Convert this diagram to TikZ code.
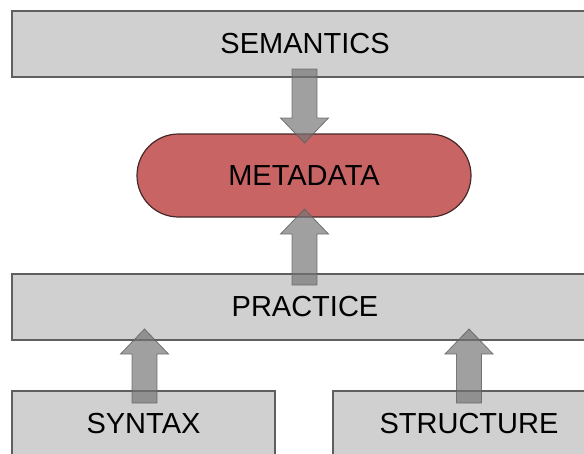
\documentclass[tikz,border=0pt]{standalone}
\usepackage{fontspec}
\setmainfont{Liberation Sans}
\usetikzlibrary{calc}

\definecolor{boxfill}{RGB}{208,208,208}
\definecolor{boxline}{RGB}{95,95,95}
\definecolor{metafill}{RGB}{200,100,100}
\definecolor{metaline}{RGB}{70,40,40}
\definecolor{arrowfill}{RGB}{115,115,115}
\definecolor{arrowline}{RGB}{95,95,95}

\tikzset{
  layer/.style={draw=boxline, fill=boxfill, line width=1.2pt, rectangle,
    inner sep=0pt, font=\fontsize{29}{35}\selectfont},
  core/.style={draw=metaline, fill=metafill, line width=1.2pt, rectangle,
    rounded corners=41.5pt, inner sep=0pt, font=\fontsize{29}{35}\selectfont},
  fatarrow/.style={fill=arrowfill, draw=arrowline, line width=0.8pt,
    fill opacity=0.68, draw opacity=0.8, line join=miter},
}

% broad block arrow from #1 to #2: shaft 25pt wide, head 48pt wide and 25pt long
\newcommand\fatarrow[2]{%
  \coordinate (hb) at ($(#2)!25pt!(#1)$);
  \draw[fatarrow]
    ($(#1)!12.5pt!90:(#2)$) -- ($(hb)!12.5pt!90:(#2)$) -- ($(hb)!24pt!90:(#2)$)
    -- (#2)
    -- ($(hb)!24pt!-90:(#2)$) -- ($(hb)!12.5pt!-90:(#2)$) -- ($(#1)!12.5pt!-90:(#2)$)
    -- cycle;
}

\begin{document}
\begin{tikzpicture}[x=1pt, y=-1pt]
  \useasboundingbox (0,0) rectangle (584,453);
  \fill[white] (0,0) rectangle (584,453);

  % layers
  \node[layer, minimum width=586pt, minimum height=66pt] (sem) at (305,44) {SEMANTICS};
  \node[layer, minimum width=586pt, minimum height=66pt] (prac) at (305,307) {PRACTICE};
  \node[layer, minimum width=263pt, minimum height=66pt] (syn) at (143.5,424) {SYNTAX};
  \node[layer, minimum width=272pt, minimum height=66pt] (str) at (469,424) {STRUCTURE};

  % central node
  \node[core, minimum width=334pt, minimum height=83pt] (meta) at (304,175.5) {METADATA};

  % arrow end points
  \coordinate (a1s) at (304.5,69);
  \coordinate (a1t) at (304.5,143);
  \coordinate (a2s) at (304.5,285);
  \coordinate (a2t) at (304.5,209);
  \coordinate (a3s) at (144.5,403);
  \coordinate (a3t) at (144.5,329);
  \coordinate (a4s) at (469,403);
  \coordinate (a4t) at (469,329);

  \fatarrow{a1s}{a1t}
  \fatarrow{a2s}{a2t}
  \fatarrow{a3s}{a3t}
  \fatarrow{a4s}{a4t}
\end{tikzpicture}
\end{document}
